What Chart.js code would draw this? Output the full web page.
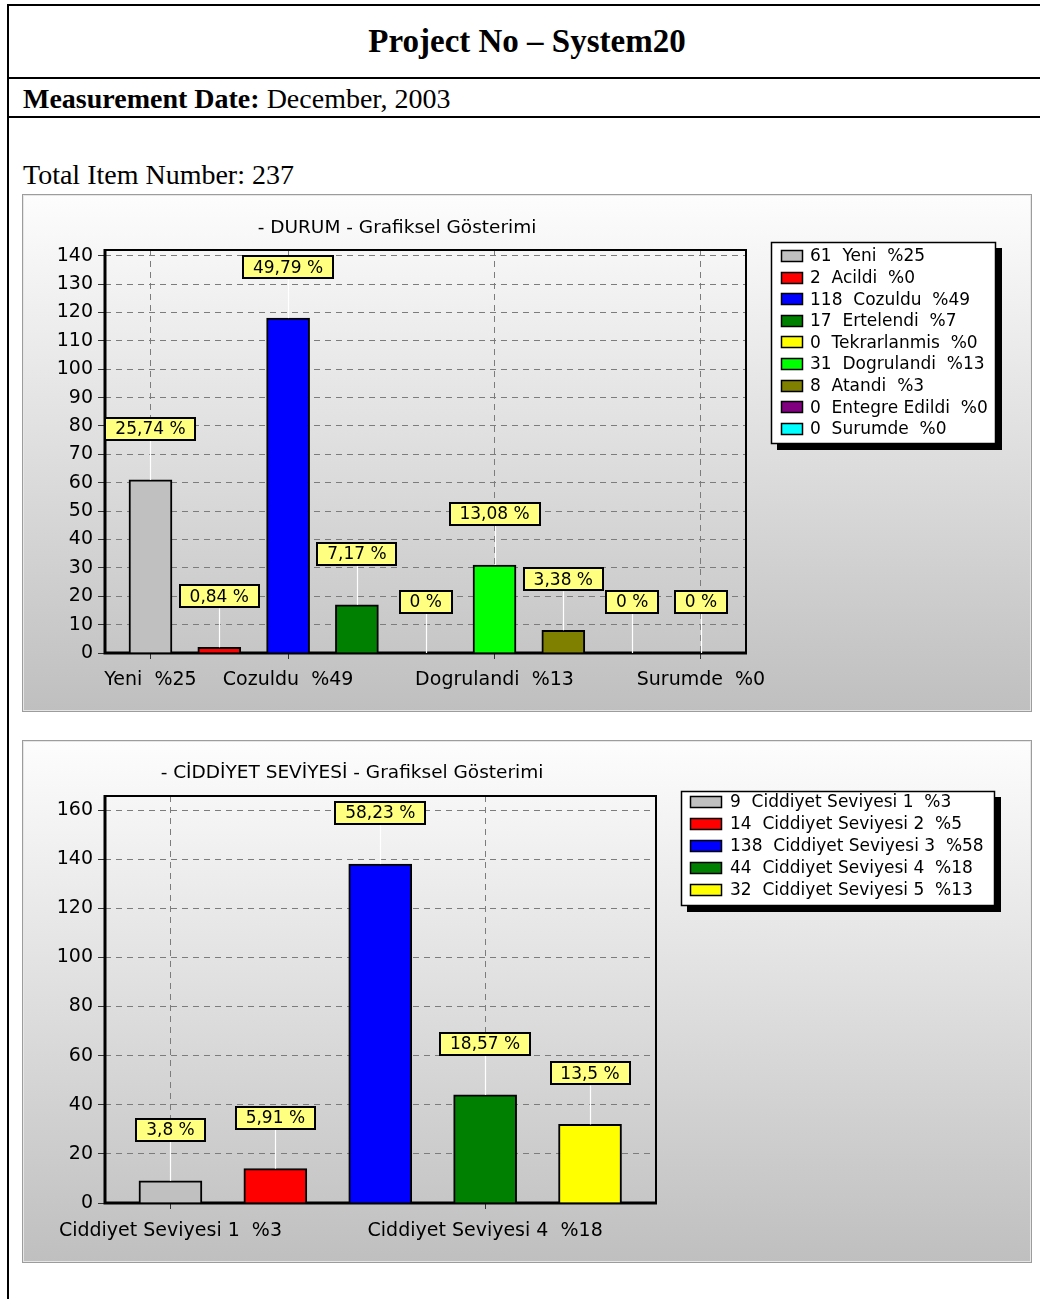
<!DOCTYPE html>
<html>
<head>
<meta charset="utf-8">
<title>Project No – System20</title>
<script src="https://cdn.jsdelivr.net/npm/chart.js@4.4.1/dist/chart.umd.min.js"></script>
<style>
  html, body { margin: 0; padding: 0; background: #fff; }
  body { position: relative; width: 1040px; height: 1299px; overflow: hidden; font-family: "Liberation Serif", serif; color: #000; }
  .vline { position: absolute; left: 7px; top: 4px; width: 2px; height: 1295px; background: #000; }
  .hline { position: absolute; left: 7px; width: 1033px; height: 2px; background: #000; }
  .txt { position: absolute; white-space: pre; line-height: 1; }
  .head { left: 0; width: 1054px; text-align: center; font-weight: bold; font-size: 33px; }
  .panel { position: absolute; left: 22px; width: 1010px;
           background: linear-gradient(#fdfdfd, #bfbfbf);
           box-shadow: inset 0 0 0 1px #9c9c9c, inset 0 0 0 2px #e6e6e6; }
  .panel canvas { position: absolute; left: 0; top: 0; }
</style>
</head>
<body>
<div class="vline"></div>
<div class="hline" style="top:4px"></div>
<div class="hline" style="top:77px"></div>
<div class="hline" style="top:116px"></div>

<div class="txt head" style="top:25px">Project No – System20</div>
<div class="txt" style="left:23px; top:85px; font-size:28px"><b>Measurement Date:</b> December, 2003</div>
<div class="txt" style="left:23px; top:161px; font-size:28px">Total Item Number: 237</div>

<div class="panel" style="top:194px; height:518px"><canvas id="durum" width="1010" height="518"></canvas></div>
<div class="panel" style="top:740px; height:523px"><canvas id="ciddiyet" width="1010" height="523"></canvas></div>

<script>
// ---- data ----
const totalItems = 237;

const durumTitle = '- DURUM - Grafiksel Gösterimi';
const durumCategories = ['Yeni', 'Acildi', 'Cozuldu', 'Ertelendi', 'Tekrarlanmis', 'Dogrulandi', 'Atandi', 'Entegre Edildi', 'Surumde'];
const durumCounts = [61, 2, 118, 17, 0, 31, 8, 0, 0];
const durumColors = ['#c0c0c0', '#ff0000', '#0000ff', '#008000', '#ffff00', '#00ff00', '#808000', '#800080', '#00ffff'];
const durumLabelledCategories = [0, 2, 5, 8];

const ciddiyetTitle = '- CİDDİYET SEVİYESİ - Grafiksel Gösterimi';
const ciddiyetCategories = ['Ciddiyet Seviyesi 1', 'Ciddiyet Seviyesi 2', 'Ciddiyet Seviyesi 3', 'Ciddiyet Seviyesi 4', 'Ciddiyet Seviyesi 5'];
const ciddiyetCounts = [9, 14, 138, 44, 32];
const ciddiyetColors = ['#c0c0c0', '#ff0000', '#0000ff', '#008000', '#ffff00'];
const ciddiyetLabelledCategories = [0, 3];

// ---- helpers ----
const FONT = '"DejaVu Sans", Verdana, sans-serif';
const pctExact = v => parseFloat((v / totalItems * 100).toFixed(2)).toString().replace('.', ',') + ' %';
const pctWhole = v => Math.floor(v / totalItems * 100);

function makeBarChart(canvasId, o) {
  const canvas = document.getElementById(canvasId);
  const W = canvas.width, H = canvas.height;
  const f = o.frame;

  const chartDecor = {
    id: 'chartDecor',
    beforeDatasetsDraw(chart) {
      const { ctx, chartArea: a } = chart;
      ctx.save();
      ctx.strokeStyle = '#000';
      ctx.lineWidth = 2;
      ctx.beginPath();
      ctx.moveTo(a.left, a.top); ctx.lineTo(a.right, a.top); ctx.lineTo(a.right, a.bottom);
      ctx.stroke();
      ctx.lineWidth = 3;
      ctx.beginPath();
      ctx.moveTo(a.left, a.top - 1); ctx.lineTo(a.left, a.bottom); ctx.lineTo(a.right + 1, a.bottom);
      ctx.stroke();
      ctx.restore();
    },
    afterDatasetsDraw(chart) {
      const { ctx } = chart;
      const meta = chart.getDatasetMeta(0);
      const values = chart.data.datasets[0].data;
      ctx.save();
      ctx.font = '17px ' + FONT;
      ctx.textAlign = 'center';
      ctx.textBaseline = 'middle';
      meta.data.forEach((el, i) => {
        const text = pctExact(values[i].y);
        const top = el.y;
        const cy = top - 51;
        const w = Math.round(ctx.measureText(text).width) + 22;
        const h = 24;
        // leader line
        ctx.strokeStyle = '#ffffff';
        ctx.lineWidth = 1.2;
        ctx.beginPath();
        ctx.moveTo(Math.round(el.x) + 0.5, cy + h / 2);
        ctx.lineTo(Math.round(el.x) + 0.5, top);
        ctx.stroke();
        // label box
        const bx = Math.round(el.x - w / 2), by = Math.round(cy - h / 2);
        ctx.fillStyle = '#ffff80';
        ctx.fillRect(bx, by, w, h);
        ctx.strokeStyle = '#000';
        ctx.lineWidth = 2;
        ctx.strokeRect(bx + 1, by + 1, w - 2, h - 2);
        ctx.fillStyle = '#000';
        ctx.fillText(text, el.x, cy + 1);
      });
      ctx.restore();
    },
    afterDraw(chart) {
      const { ctx } = chart;
      ctx.save();
      // chart title
      ctx.font = '18.5px ' + FONT;
      ctx.fillStyle = '#000';
      ctx.textAlign = 'center';
      ctx.textBaseline = 'middle';
      ctx.fillText(o.title, o.titlePos[0], o.titlePos[1]);
      // legend box with drop shadow
      const L = o.legend;
      ctx.fillStyle = '#000';
      ctx.fillRect(L.x + 6, L.y + 6, L.w, L.h);
      ctx.fillStyle = '#fff';
      ctx.fillRect(L.x, L.y, L.w, L.h);
      ctx.strokeStyle = '#000';
      ctx.lineWidth = 1.5;
      ctx.strokeRect(L.x + 0.5, L.y + 0.5, L.w - 1, L.h - 1);
      ctx.font = '17px ' + FONT;
      ctx.textAlign = 'left';
      o.categories.forEach((name, i) => {
        const cy = L.rowY + i * L.rowStep;
        ctx.fillStyle = o.colors[i];
        ctx.fillRect(L.swX, Math.round(cy - 6), L.swW, 12);
        ctx.strokeStyle = '#000';
        ctx.lineWidth = 1.5;
        ctx.strokeRect(L.swX + 0.5, Math.round(cy - 6) + 0.5, L.swW - 1, 11);
        ctx.fillStyle = '#000';
        ctx.fillText(`${o.counts[i]}  ${name}  %${pctWhole(o.counts[i])}`, L.textX, cy + 1);
      });
      ctx.restore();
    }
  };

  return new Chart(canvas, {
    type: 'bar',
    data: {
      datasets: [{
        data: o.counts.map((v, i) => ({ x: i, y: v })),
        backgroundColor: o.colors,
        borderColor: '#000',
        borderWidth: 2,
        barThickness: o.barThickness
      }]
    },
    options: {
      responsive: false,
      animation: false,
      devicePixelRatio: 1,
      layout: { padding: { left: 0, top: f.top, right: W - f.right, bottom: 0 } },
      plugins: { legend: { display: false }, title: { display: false }, tooltip: { enabled: false } },
      scales: {
        x: {
          type: 'linear',
          offset: false,
          min: o.xMin,
          max: o.xMax,
          afterBuildTicks: s => { s.ticks = o.labelled.map(v => ({ value: v })); },
          afterFit: s => { s.height = H - f.bottom; },
          grid: { offset: false, color: '#7c7c7c', lineWidth: 1, tickLength: 6, tickColor: '#303030', tickBorderDash: [] },
          border: { display: false, dash: [6, 5] },
          ticks: {
            autoSkip: false, maxRotation: 0, padding: o.xPad, color: '#000',
            font: { family: FONT, size: 19 },
            callback: v => `${o.categories[v]}  %${pctWhole(o.counts[v])}`
          }
        },
        y: {
          min: 0,
          max: o.yMax,
          afterFit: s => { s.width = f.left; },
          grid: { color: '#7c7c7c', lineWidth: 1, tickLength: 7, tickColor: '#303030', tickBorderDash: [] },
          border: { display: false, dash: [6, 5] },
          ticks: { stepSize: o.yStep, includeBounds: false, padding: 5, color: '#000', font: { family: FONT, size: 19 } }
        }
      }
    },
    plugins: [chartDecor]
  });
}

makeBarChart('durum', {
  title: durumTitle, titlePos: [375, 34],
  categories: durumCategories, counts: durumCounts, colors: durumColors, labelled: durumLabelledCategories,
  frame: { left: 83, top: 56, right: 724, bottom: 459 },
  xMin: -0.661, xMax: 8.655, yMax: 142, yStep: 10, barThickness: 43, xPad: 10,
  legend: { x: 749, y: 48, w: 225, h: 202, rowY: 62, rowStep: 21.6, swX: 759, swW: 22, textX: 788 }
});

makeBarChart('ciddiyet', {
  title: ciddiyetTitle, titlePos: [330, 33],
  categories: ciddiyetCategories, counts: ciddiyetCounts, colors: ciddiyetColors, labelled: ciddiyetLabelledCategories,
  frame: { left: 83, top: 56, right: 634, bottom: 463 },
  xMin: -0.624, xMax: 4.629, yMax: 165.7, yStep: 20, barThickness: 63, xPad: 11,
  legend: { x: 659, y: 51, w: 314, h: 115, rowY: 62, rowStep: 22, swX: 668, swW: 32, textX: 708 }
});
</script>
</body>
</html>
